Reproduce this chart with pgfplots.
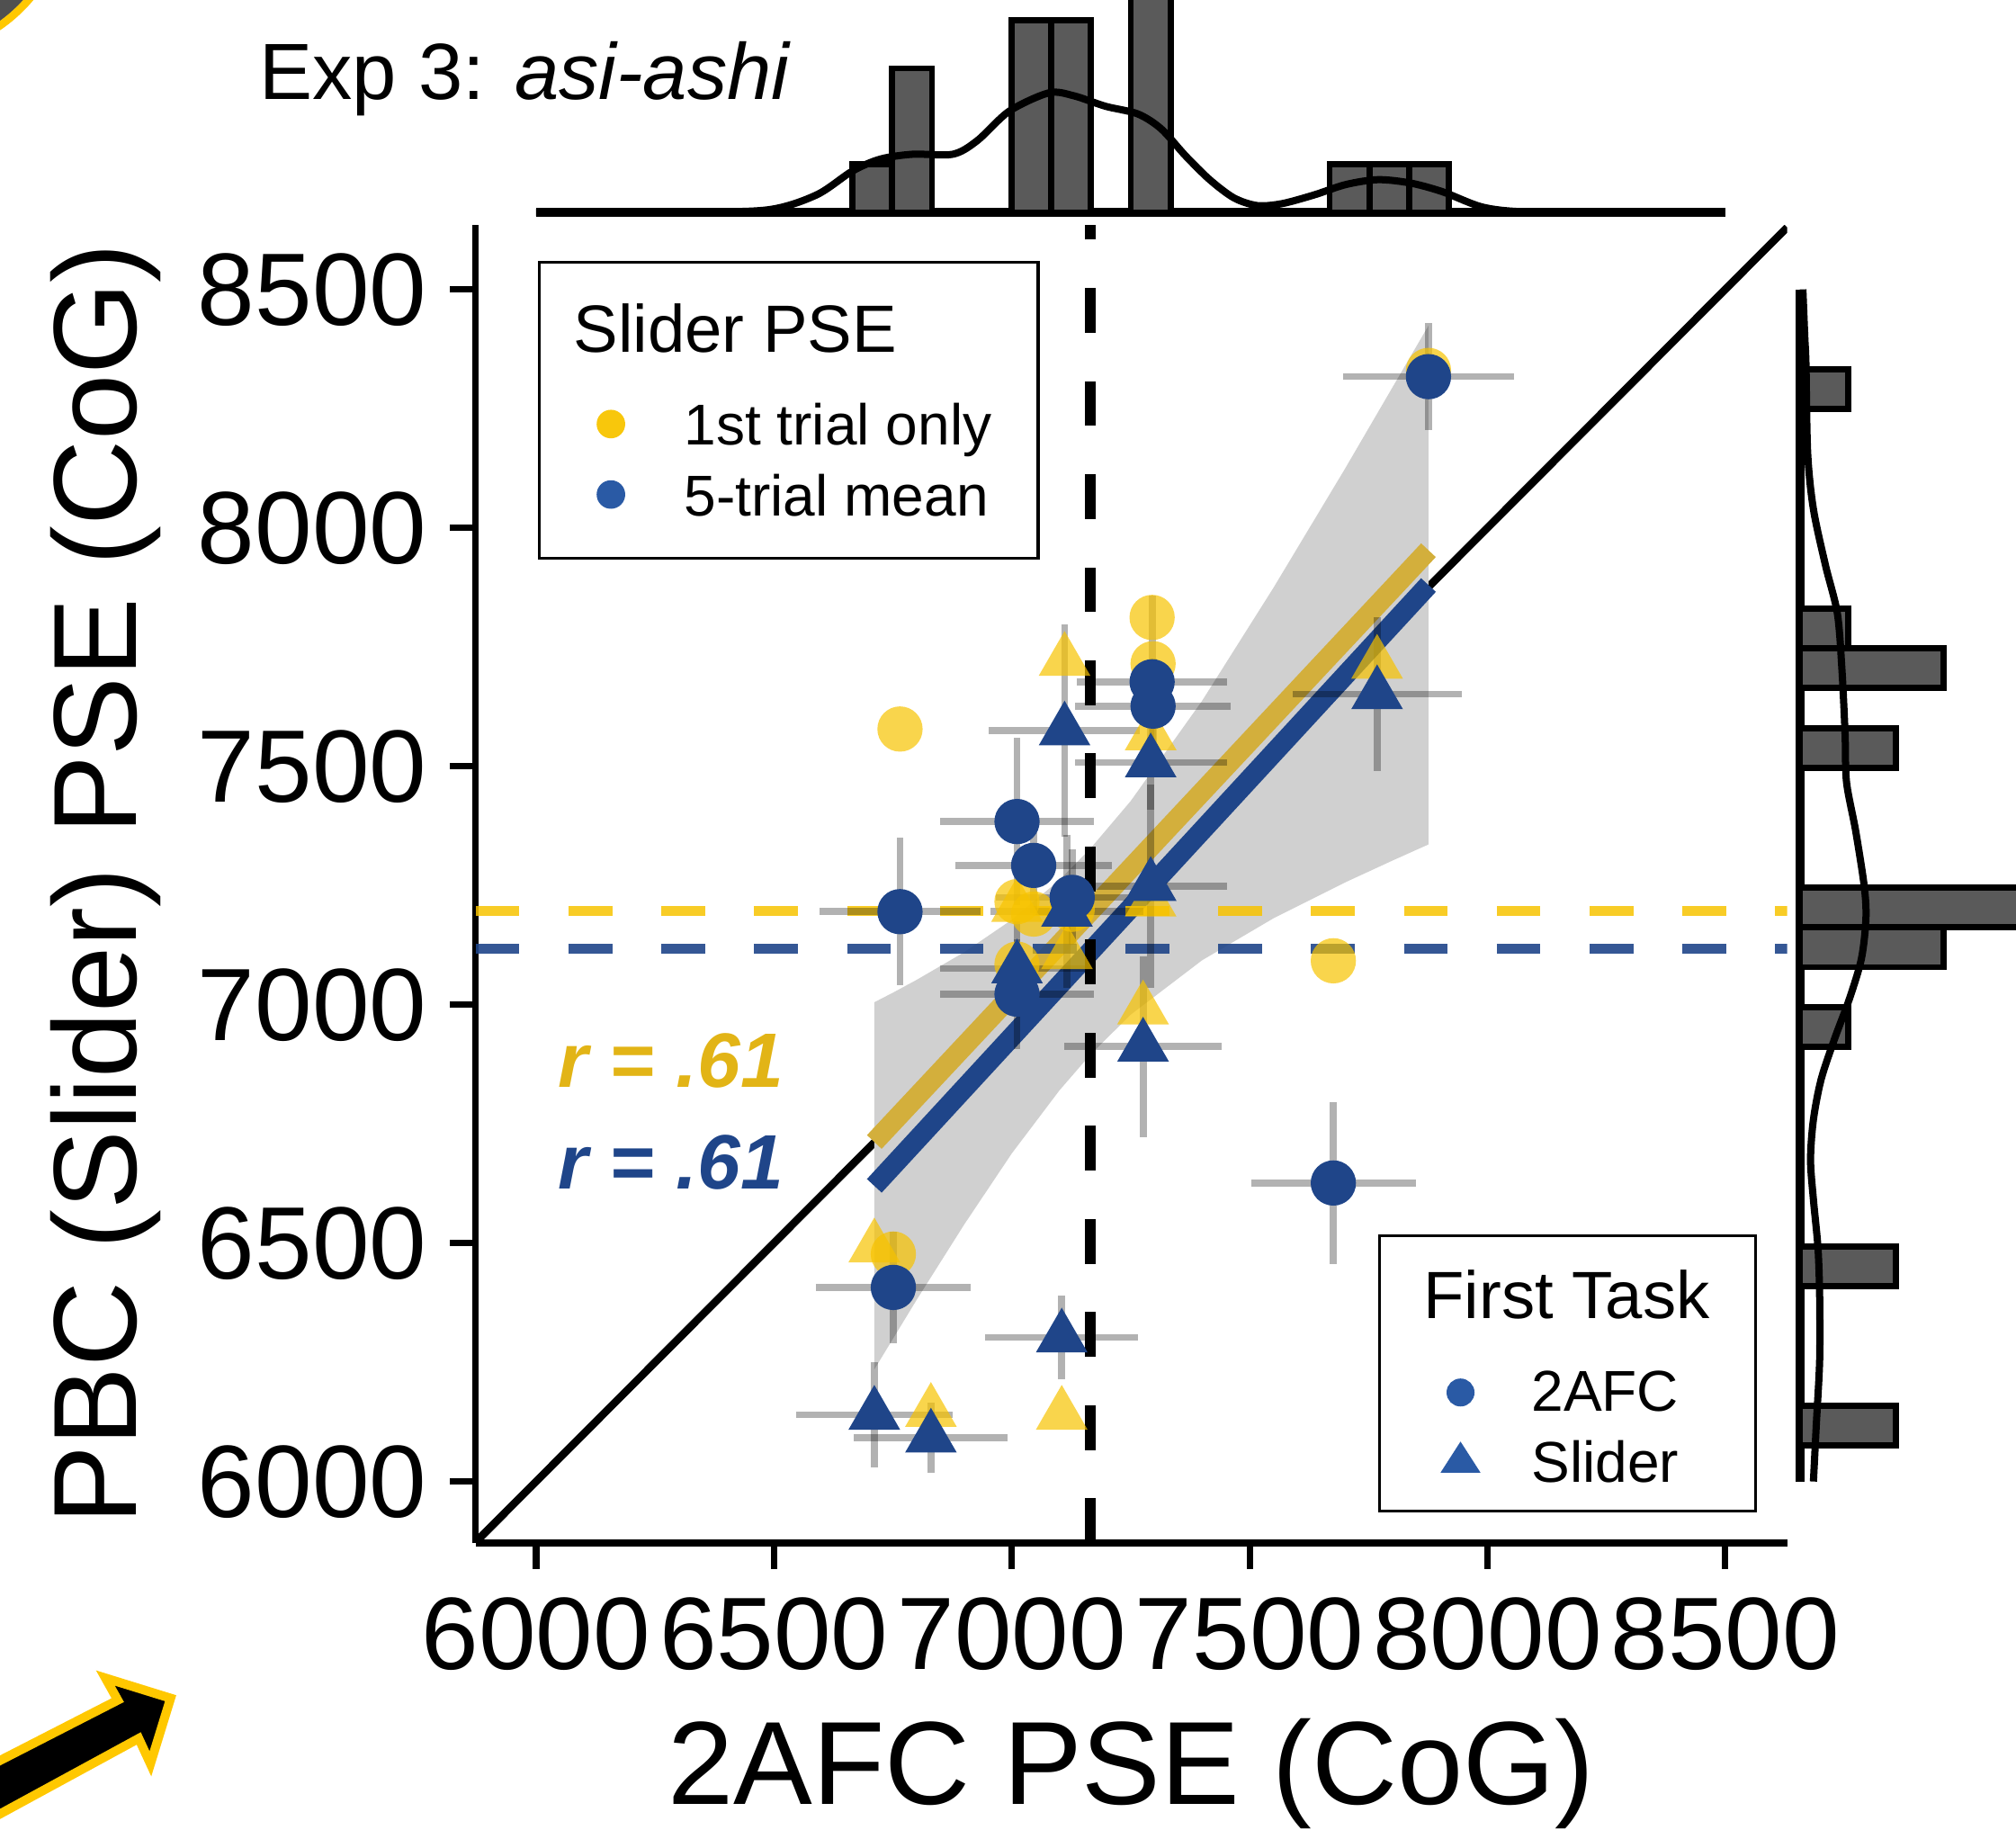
\documentclass[border=0pt]{standalone}
\usepackage{fontspec}
\setmainfont{Liberation Sans}
\usepackage{pgfplots}
\pgfplotsset{compat=1.18}
\definecolor{ptyellow}{HTML}{F7C300}
\definecolor{ptblue}{HTML}{1F4589}
\definecolor{lineyellow}{HTML}{D3AF3C}
\definecolor{bandgray}{HTML}{D0D0D0}
\definecolor{histgray}{HTML}{5A5A5A}
\definecolor{ryellow}{HTML}{E2B416}
\definecolor{legyellow}{HTML}{F8C70C}
\definecolor{legblue}{HTML}{2A5AA5}
\definecolor{arrowyellow}{HTML}{FFC800}
\definecolor{cornergray}{HTML}{505050}

\begin{document}
\begin{tikzpicture}
\useasboundingbox (0pt,0pt) rectangle (392pt,355.75pt);
\clip (0pt,0pt) rectangle (392pt,355.75pt);

% decorative corner shape and arrow
\fill[cornergray] (-17.5pt,375.75pt) circle[radius=29.8pt];
\draw[arrowyellow, line width=1.5pt] (-17.5pt,375.75pt) circle[radius=30.5pt];
\filldraw[fill=black, draw=arrowyellow, line width=1.75pt, line join=miter]
  (20.5pt,29.5pt) -- (33.175pt,25.575pt) -- (29.25pt,12.825pt) -- (26.975pt,17.75pt)
  -- (-5pt,0.35pt) -- (-5pt,10.9pt) -- (22.9pt,25.2pt) -- cycle;

% title
\node[anchor=base west, inner sep=0pt, font=\fontsize{15.5}{18}\selectfont] at (50.2pt,336.5pt) {Exp 3: \textit{asi-ashi}};

% ---------------- main scatter axis ----------------
\begin{axis}[
  at={(92.5pt,55.75pt)}, anchor=south west,
  width=255pt, height=256.25pt, scale only axis,
  xmin=5873, xmax=8630, ymin=5871, ymax=8635,
  axis x line*=bottom, axis y line*=left,
  axis line style={line width=1.25pt, -},
  xtick={6000,6500,7000,7500,8000,8500},
  ytick={6000,6500,7000,7500,8000,8500},
  tick align=outside, major tick length=5pt,
  tick style={line width=1.25pt, black},
  tick label style={font=\fontsize{20}{23}\selectfont},
  xticklabel style={yshift=-2pt},
  yticklabel style={xshift=-1pt},
  /pgf/number format/assume math mode=true,
  /pgf/number format/1000 sep={},
  xlabel={2AFC PSE (CoG)}, ylabel={PBC (Slider) PSE (CoG)},
  label style={font=\fontsize{23}{27}\selectfont},
  xlabel style={at={(axis description cs:0.5,-0.198)}, anchor=base},
  ylabel style={at={(axis description cs:-0.2588,0.5)}, anchor=base},
  legend cell align=left,
  legend style={at={(axis description cs:0.0476,0.9728)}, anchor=north west,
    draw=black, line width=0.55pt, fill=white, inner xsep=0pt, inner ysep=5.35pt,
    row sep=1.7pt, column sep=0pt,
    font=\fontsize{11.2}{13}\selectfont,
    cells={anchor=base west, inner sep=0pt},
    nodes={inner sep=0pt, anchor=base west, text depth={}, text height={}}},
]
% identity line
\addplot[forget plot, black, line width=1.5pt] coordinates {(5873,5873) (8630,8630)};
% confidence band
\addplot[forget plot, fill=bandgray, draw=none] coordinates {
 (6711,7005) (6750,7025) (6800,7052) (6900,7110) (7000,7178) (7100,7261) (7165,7327)
 (7250,7427) (7400,7637) (7550,7874) (7700,8123) (7800,8294) (7876,8424)
 (7876,7336) (7800,7302) (7700,7256) (7550,7181) (7400,7093) (7250,6979) (7165,6895)
 (7100,6820) (7000,6688) (6900,6539) (6800,6381) (6750,6299) (6711,6235)} -- cycle;
% regression lines
\addplot[forget plot, lineyellow, line width=3.9pt] coordinates {(6711,6712) (7876,7953)};
\addplot[forget plot, ptblue, line width=3.9pt] coordinates {(6711,6620) (7876,7880)};
% mean lines
\addplot[forget plot, ptyellow, opacity=0.85, line width=2pt, dash pattern=on 8.5pt off 9.55pt] coordinates {(5873,7197) (8630,7197)};
\addplot[forget plot, ptblue, opacity=0.9, line width=2pt, dash pattern=on 8.5pt off 9.55pt] coordinates {(5873,7117) (8630,7117)};
\addplot[forget plot, black, line width=2pt, dash pattern=on 8.7pt off 9.4pt] coordinates {(7165,5871) (7165,8635)};
% error bars
\addplot[forget plot, only marks, mark=none,
  error bars/.cd, x dir=both, x explicit, y dir=both, y explicit,
  error mark=none,
  error bar style={line width=1.35pt, draw=black, draw opacity=0.3}]
  coordinates {
  (7876,8317) +- (180,112)
  (7295,7677) +- (158,180)
  (7297,7626) +- (164,100)
  (7011,7384) +- (162,175)
  (7046,7292) +- (165,100)
  (7127,7225) +- (160,100)
  (6765,7195) +- (170,155)
  (7011,7022) +- (162,116)
  (7676,6626) +- (173,170)
  (6751,6407) +- (162,117)
  (7111,7575) +- (159,222)
  (7292,7508) +- (160,100)
  (7768,7651) +- (178,162)
  (7292,7249) +- (160,213)
  (7116,7195) +- (160,160)
  (7011,7076) +- (162,100)
  (7276,6912) +- (165,190)
  (7105,6302) +- (161,87)
  (6711,6140) +- (165,111)
  (6830,6092) +- (162,73)
  };
% 1st trial only (yellow)
\addplot[forget plot, only marks, mark=*, mark size=4.4pt, mark options={draw opacity=0, fill=ptyellow, fill opacity=0.7}]
  coordinates {(7876,8330) (7295,7812) (7297,7715) (7011,7216) (7046,7190) (7127,7200) (6765,7578) (7011,7085) (7676,7092) (6751,6477)};
\addplot[forget plot, only marks, mark=triangle*, mark size=5.8pt, mark options={draw opacity=0, fill=ptyellow, fill opacity=0.7}]
  coordinates {(7111,7721) (7292,7565) (7768,7715) (7292,7216) (7116,7106) (7011,7205) (7276,6990) (7105,6140) (6711,6491) (6830,6146)};
% 5-trial mean (blue)
\addplot[forget plot, only marks, mark=*, mark size=4.4pt, mark options={draw opacity=0, fill=ptblue}]
  coordinates {(7876,8317) (7295,7677) (7297,7626) (7011,7384) (7046,7292) (7127,7225) (6765,7195) (7011,7022) (7676,6626) (6751,6407)};
\addplot[forget plot, only marks, mark=triangle*, mark size=5.8pt, mark options={draw opacity=0, fill=ptblue}]
  coordinates {(7111,7575) (7292,7508) (7768,7651) (7292,7249) (7116,7195) (7011,7076) (7276,6912) (7105,6302) (6711,6140) (6830,6092)};
% correlation labels
\node[anchor=base west, inner sep=0pt, text=ryellow, font=\fontsize{15}{18}\selectfont\bfseries\itshape] at (axis cs:6045,6827) {r = .61};
\node[anchor=base west, inner sep=0pt, text=ptblue, font=\fontsize{15}{18}\selectfont\bfseries\itshape] at (axis cs:6045,6613) {r = .61};
% legend: Slider PSE
\addlegendimage{empty legend}
\addlegendentry{\hspace*{-21.55pt}\fontsize{13}{15}\selectfont\rule[-7.35pt]{0pt}{19.5pt}Slider PSE}
\addlegendimage{legend image code/.code={\fill[legyellow] (0pt,4.1pt) circle[radius=2.5pt]; \path (-13.6pt,0pt) (14.0pt,0pt);}}
\addlegendentry{\rule[-3pt]{0pt}{12pt}1st trial only\hspace*{9.05pt}}
\addlegendimage{legend image code/.code={\fill[legblue] (0pt,4.1pt) circle[radius=2.5pt]; \path (-13.6pt,0pt) (14.0pt,0pt);}}
\addlegendentry{\rule[-3pt]{0pt}{12pt}5-trial mean}
\end{axis}

% ---------------- second legend (First Task) ----------------
\begin{axis}[
  at={(92.5pt,55.75pt)}, anchor=south west,
  width=255pt, height=256.25pt, scale only axis, hide axis,
  xmin=0, xmax=1, ymin=0, ymax=1,
  legend cell align=left,
  legend style={at={(axis description cs:0.688,0.2341)}, anchor=north west,
    draw=black, line width=0.55pt, fill=white, inner xsep=0pt, inner ysep=2.65pt,
    row sep=1.75pt, column sep=0pt,
    font=\fontsize{11.2}{13}\selectfont,
    cells={anchor=base west, inner sep=0pt},
    nodes={inner sep=0pt, anchor=base west, text depth={}, text height={}}},
]
\addlegendimage{empty legend}
\addlegendentry{\hspace*{-21pt}\fontsize{13}{15}\selectfont\rule[-7.3pt]{0pt}{20.7pt}First Task\hspace*{8.95pt}}
\addlegendimage{legend image code/.code={\fill[legblue] (0pt,3.65pt) circle[radius=2.44pt]; \path (-15.5pt,0pt) (13.55pt,0pt);}}
\addlegendentry{\rule[-3pt]{0pt}{12pt}2AFC}
\addlegendimage{legend image code/.code={\fill[legblue] (-3.375pt,2.1pt) -- (3.375pt,2.1pt) -- (0pt,7.35pt) -- cycle; \path (-15.5pt,0pt) (13.55pt,0pt);}}
\addlegendentry{\rule[-3pt]{0pt}{12pt}Slider}
\end{axis}

% ---------------- top marginal histogram (2AFC PSE) ----------------
\begin{axis}[
  at={(92.5pt,312pt)}, anchor=south west,
  width=255pt, height=43.75pt, scale only axis, hide axis,
  xmin=5873, xmax=8630, ymin=-0.265, ymax=4.426,
]
\addplot[black, line width=1.75pt] coordinates {(6000,0) (8500,0)};
\addplot[ybar, bar width=83.6, fill=histgray, draw=black, line width=1.2pt]
  coordinates {(6706.8,1) (6790.4,3) (7041.2,4) (7124.8,4) (7292,5) (7710,1) (7793.6,1) (7877.2,1)};
\addplot[smooth, black, line width=1.4pt] coordinates {
 (6000,0) (6300,0.005) (6486,0.05) (6589,0.36) (6665,0.86) (6724,1.11) (6792,1.21) (6876,1.21)
 (6927,1.49) (6995,2.11) (7078,2.49) (7130,2.43) (7197,2.21) (7265,2.05) (7314,1.74) (7365,1.18)
 (7416,0.68) (7467,0.30) (7516,0.14) (7568,0.18) (7635,0.36) (7703,0.58) (7770,0.68) (7838,0.61)
 (7905,0.43) (7989,0.11) (8076,0.01) (8250,0) (8500,0)};
\end{axis}

% ---------------- right marginal histogram (1st-trial slider PSE) ----------------
\begin{axis}[
  at={(347.5pt,55.75pt)}, anchor=south west,
  width=44.5pt, height=256.25pt, scale only axis, hide axis,
  xmin=-0.268, xmax=4.504, ymin=5871, ymax=8635,
]
\addplot[black, line width=1.75pt] coordinates {(0,6000) (0,8500)};
\addplot[xbar, bar width=83.6, fill=histgray, draw=black, line width=1.2pt]
  coordinates {(2,6117.2) (2,6451.6) (1,6953.2) (3,7120.4) (5,7204) (2,7538.4) (3,7705.6) (1,7789.2) (1,8290.8)};
\addplot[smooth, black, line width=1.4pt] coordinates {
 (0.06,8500) (0.1,8400) (0.125,8343) (0.16,8157) (0.28,8039) (0.53,7922) (0.78,7820) (0.875,7702)
 (0.94,7568) (0.97,7467) (1.16,7365) (1.34,7248) (1.375,7180) (1.28,7096) (1.03,7012) (0.72,6928)
 (0.44,6843) (0.28,6759) (0.22,6675) (0.28,6591) (0.375,6490) (0.41,6388) (0.41,6254) (0.34,6119) (0.28,6000)};
\end{axis}
\end{tikzpicture}
\end{document}
